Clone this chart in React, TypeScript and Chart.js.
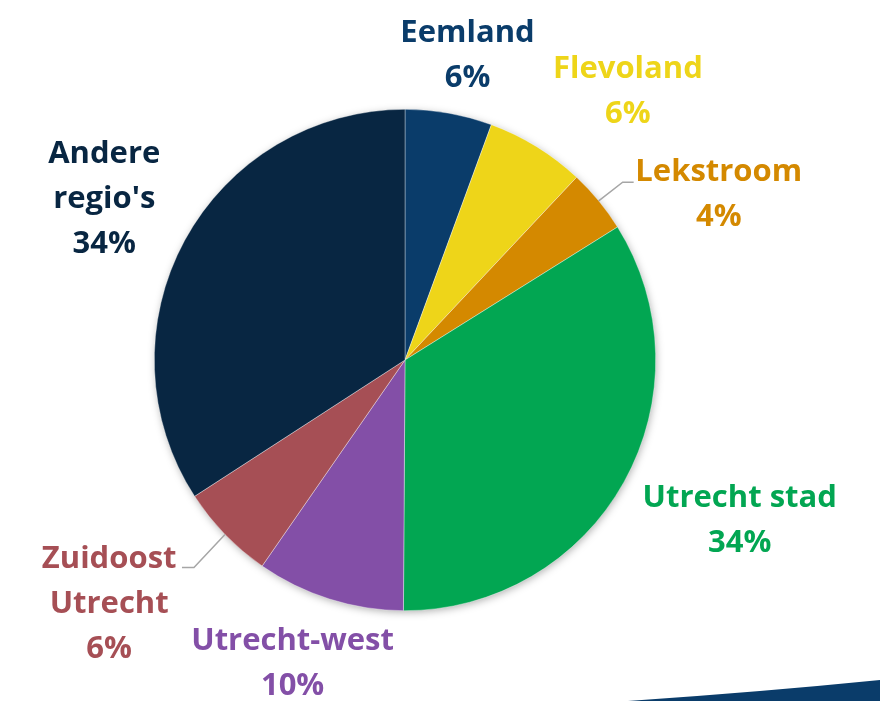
import React, { useEffect, useRef } from "react";
import { Chart, registerables } from "chart.js";

Chart.register(...registerables);

const regions = ["Eemland", "Flevoland", "Lekstroom", "Utrecht stad", "Utrecht-west", "Zuidoost Utrecht", "Andere regio's"];
const labelLines = [["Eemland"], ["Flevoland"], ["Lekstroom"], ["Utrecht stad"], ["Utrecht-west"], ["Zuidoost", "Utrecht"], ["Andere", "regio's"]];
const shares = [5.6, 6.4, 4.1, 34.0, 9.55, 6.2, 34.15];
const colors = ["#0A3C6A", "#EED519", "#D48900", "#02A652", "#834FA7", "#A64F55", "#082642"];

// label block centre offsets from slice edge (style/position settings)
const labelOffsets = [
  [18.6, -57.4],
  [91.2, -55.4],
  [120.1, -6.6],
  [115.8, 38.2],
  [-36.8, 64.7],
  [-115.8, 69.3],
  [-80.5, -40.6],
];
const leaders: (number[][] | null)[] = [null, null, [[24, -18.6], [35, -18.6]], null, null, [[-31, 33], [-43, 33]], null];

const FONT = "bold 31px 'Open Sans', sans-serif";
const LINE_H = 45;

export default function App() {
  const ref = useRef<HTMLCanvasElement>(null);
  useEffect(() => {
    document.body.style.margin = "0";
    const canvas = ref.current!;
    const shadowPlugin = {
      id: "pieShadow",
      beforeDatasetsDraw(chart: any) {
        const arc = chart.getDatasetMeta(0).data[0];
        if (!arc) return;
        const { x, y, outerRadius } = arc.getProps(["x", "y", "outerRadius"], true);
        const ctx = chart.ctx;
        ctx.save();
        ctx.shadowColor = "rgba(0,0,0,0.35)";
        ctx.shadowBlur = 9;
        ctx.shadowOffsetX = 1;
        ctx.shadowOffsetY = 2;
        ctx.fillStyle = "#ffffff";
        ctx.beginPath();
        ctx.arc(x, y, outerRadius - 1, 0, Math.PI * 2);
        ctx.fill();
        ctx.restore();
      },
    };
    const labelPlugin = {
      id: "outLabels",
      afterDraw(chart: any) {
        const ctx = chart.ctx;
        const meta = chart.getDatasetMeta(0);
        const data = chart.data.datasets[0].data as number[];
        const total = data.reduce((a, b) => a + b, 0);
        // swoosh decoration bottom right
        ctx.save();
        ctx.fillStyle = "#0A3C6A";
        ctx.beginPath();
        ctx.moveTo(628, chart.height);
        ctx.quadraticCurveTo(760, 692, chart.width, 680);
        ctx.lineTo(chart.width, chart.height);
        ctx.closePath();
        ctx.fill();
        ctx.restore();

        meta.data.forEach((arc: any, i: number) => {
          const { x, y, startAngle, endAngle, outerRadius } = arc.getProps(["x", "y", "startAngle", "endAngle", "outerRadius"], true);
          const mid = (startAngle + endAngle) / 2;
          const ex = x + Math.cos(mid) * outerRadius;
          const ey = y + Math.sin(mid) * outerRadius;
          const lead = leaders[i];
          if (lead) {
            ctx.save();
            ctx.strokeStyle = "#A6A6A6";
            ctx.lineWidth = 1.5;
            ctx.beginPath();
            ctx.moveTo(ex, ey);
            lead.forEach((p) => ctx.lineTo(ex + p[0], ey + p[1]));
            ctx.stroke();
            ctx.restore();
          }
          const lines = [...labelLines[i], Math.round((data[i] / total) * 100) + "%"];
          const cx = ex + labelOffsets[i][0];
          const cy = ey + labelOffsets[i][1];
          ctx.save();
          ctx.font = FONT;
          ctx.fillStyle = colors[i];
          ctx.textAlign = "center";
          ctx.textBaseline = "middle";
          lines.forEach((t, k) => {
            ctx.fillText(t, cx, cy + (k - (lines.length - 1) / 2) * LINE_H);
          });
          ctx.restore();
        });
      },
    };
    const chart = new Chart(canvas, {
      type: "pie",
      data: {
        labels: regions,
        datasets: [
          {
            data: shares,
            backgroundColor: colors,
            borderColor: "rgba(255,255,255,0.6)",
            borderWidth: 0.6,
          },
        ],
      },
      options: {
        responsive: false,
        animation: false,
        layout: { padding: { left: 154, right: 224, top: 109, bottom: 90 } },
        plugins: { legend: { display: false }, tooltip: { enabled: false } },
      },
      plugins: [shadowPlugin, labelPlugin],
    });
    return () => chart.destroy();
  }, []);
  return (
    <div style={{ position: "fixed", left: 0, top: 0, width: 880, height: 701, background: "#fff" }}>
      <canvas ref={ref} width={880} height={701} />
    </div>
  );
}
